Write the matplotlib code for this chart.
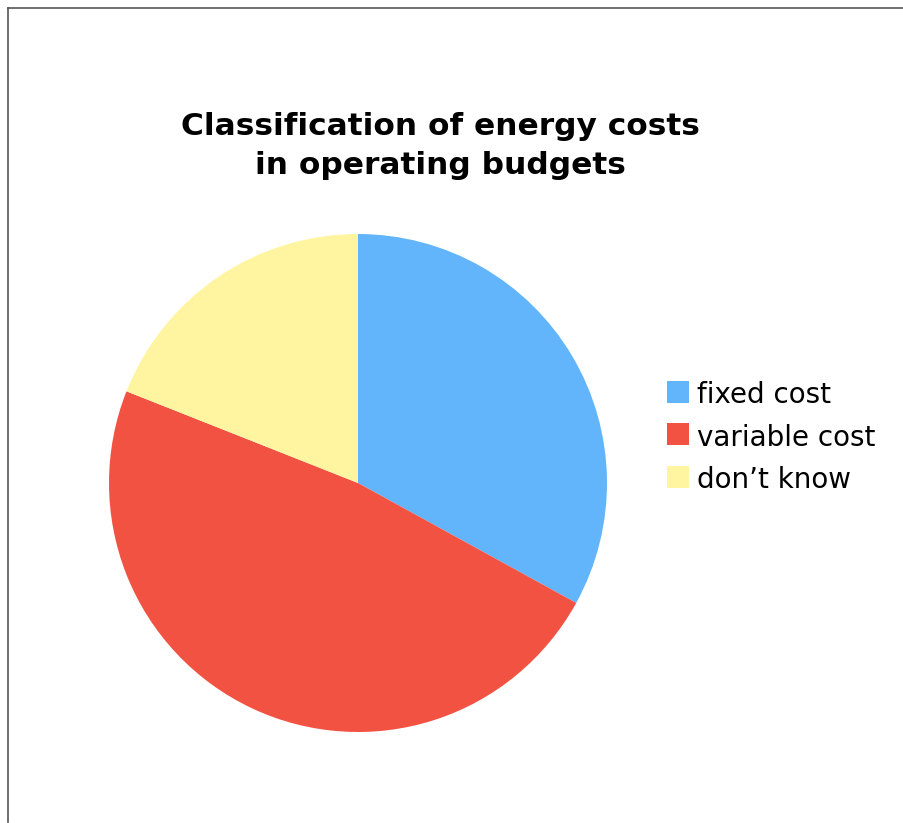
import matplotlib
matplotlib.use('Agg')
import matplotlib.pyplot as plt
from matplotlib.patches import Rectangle
from matplotlib.lines import Line2D

# data
labels = ['fixed cost', 'variable cost', 'don\u2019t know']
shares = [33, 48, 19]
colors = ['#63b5fb', '#f25242', '#fff49f']
title = 'Classification of energy costs\nin operating budgets'

W, H = 904, 823
fig = plt.figure(figsize=(W / 100, H / 100), dpi=100)

# pie axes: centre (358, 483), radius ~249 px
ax = fig.add_axes([109 / W, (H - 732) / H, 498 / W, 498 / H])
ax.pie(shares, colors=colors, startangle=90, counterclock=False,
       radius=1, wedgeprops=dict(linewidth=0))
ax.set_xlim(-1, 1)
ax.set_ylim(-1, 1)
ax.set_aspect('equal')
ax.axis('off')

fig.text(440 / W, 1 - 146 / H, title, ha='center', va='center',
         fontsize=22.5, fontweight='bold', linespacing=1.44)

# legend drawn by hand
for i, (lab, col) in enumerate(zip(labels, colors)):
    yc = 392 + i * 42.5
    fig.patches.append(Rectangle((667 / W, 1 - (yc + 11) / H), 22 / W, 22 / H,
                                 transform=fig.transFigure, facecolor=col,
                                 edgecolor='none'))
    fig.text(697 / W, 1 - yc / H, lab, ha='left', va='center_baseline', fontsize=20)

# frame lines on left and top
fig.lines.append(Line2D([7.5 / W, 7.5 / W], [1 - 7.5 / H, 1 - 822 / H],
                        transform=fig.transFigure, color='#555555', lw=1.2))
fig.lines.append(Line2D([7.5 / W, 1], [1 - 7.5 / H, 1 - 7.5 / H],
                        transform=fig.transFigure, color='#555555', lw=1.2))

fig.savefig('out.png', dpi=100)
